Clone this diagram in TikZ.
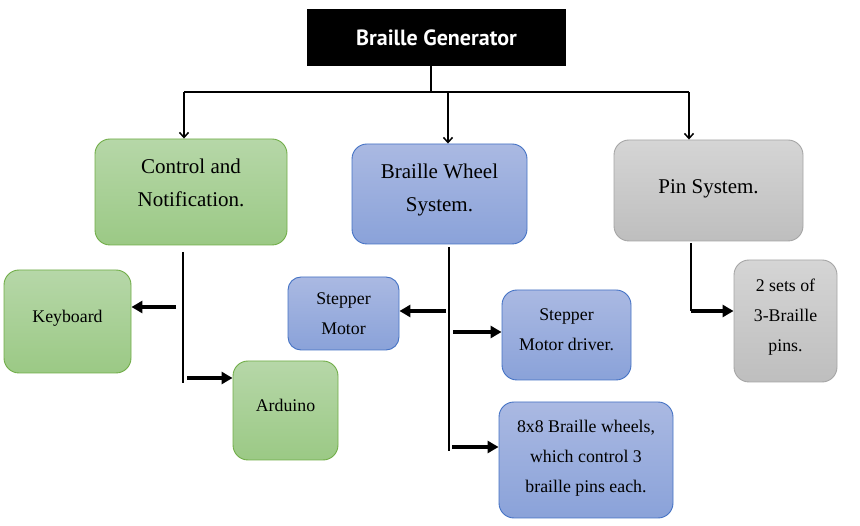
\documentclass[tikz,border=0pt]{standalone}
\usepackage{fontspec}
\setmainfont{Liberation Serif}
\newfontfamily\titlefont{PT Sans}
\usetikzlibrary{arrows.meta}
\definecolor{gtop}{HTML}{B6D7A8}
\definecolor{gbot}{HTML}{9BC985}
\definecolor{gbrd}{HTML}{70AD47}
\definecolor{btop}{HTML}{AAB9E2}
\definecolor{bbot}{HTML}{8AA2D9}
\definecolor{bbrd}{HTML}{4472C4}
\definecolor{ytop}{HTML}{D5D5D5}
\definecolor{ybot}{HTML}{BEBEBE}
\definecolor{ybrd}{HTML}{A5A5A5}
\tikzset{
  box/.style={draw, line width=0.9pt, rounded corners=15pt, inner sep=0pt},
  gbox/.style={box, draw=gbrd, top color=gtop, bottom color=gbot},
  bbox/.style={box, draw=bbrd, top color=btop, bottom color=bbot},
  ybox/.style={box, draw=ybrd, top color=ytop, bottom color=ybot},
  htxt/.style={align=center, inner sep=0pt, font=\fontsize{21}{33}\selectfont},
  ctxt/.style={align=center, inner sep=0pt, font=\fontsize{17.8}{30}\selectfont},
  topline/.style={line width=1.6pt},
  toparrow/.style={line width=1.5pt, -{Straight Barb[length=5pt,width=9pt,line width=1.5pt]}},
  vline/.style={line width=2pt},
  harrow/.style={line width=3.3pt, -{Triangle[length=11pt,width=12pt]}},
}
\begin{document}
\begin{tikzpicture}[x=1pt,y=-1pt]
\useasboundingbox (0,0) rectangle (860,526);
% title
\node[fill=black, minimum width=259pt, minimum height=57pt, inner sep=0pt,
      text=white, font=\titlefont\bfseries\fontsize{22}{24}\selectfont]
      (title) at (436.5,37.5) {Braille Generator};
% main boxes
\node[gbox, minimum width=192pt, minimum height=106pt] (ctrl) at (191,192) {};
\node[bbox, minimum width=175pt, minimum height=100pt] (wheel) at (439.5,194) {};
\node[ybox, minimum width=189pt, minimum height=101pt] (pin) at (708.5,190.5) {};
\node[htxt] (ctrlt) at ([yshift=9pt]ctrl.center) {Control and\\Notification.};
\node[htxt] (wheelt) at ([yshift=4pt]wheel.center) {Braille Wheel\\System.};
\node[htxt] (pint) at ([yshift=2pt]pin.center) {Pin System.};
% child boxes
\node[gbox, minimum width=127pt, minimum height=103pt] (kbd) at (67.5,321.5) {};
\node[gbox, minimum width=105pt, minimum height=99pt] (ard) at (285.5,410.5) {};
\node[bbox, minimum width=111pt, minimum height=73pt, rounded corners=13pt] (sm) at (343.5,313.5) {};
\node[bbox, minimum width=129pt, minimum height=90pt] (smd) at (566.5,335) {};
\node[bbox, minimum width=174pt, minimum height=116pt] (wh) at (586,460) {};
\node[ybox, minimum width=103pt, minimum height=122pt] (sets) at (785.5,321) {};
\node[ctxt] (kbdt) at ([yshift=3pt]kbd.center) {Keyboard};
\node[ctxt] (ardt) at ([yshift=5pt]ard.center) {Arduino};
\node[ctxt] (smt) at ([yshift=0pt]sm.center) {Stepper\\Motor};
\node[ctxt] (smdt) at ([yshift=5pt]smd.center) {Stepper\\Motor driver.};
\node[ctxt] (wht) at ([yshift=2pt]wh.center) {8x8 Braille wheels,\\which control 3\\braille pins each.};
\node[ctxt] (setst) at ([yshift=4pt]sets.center) {2 sets of\\3-Braille\\pins.};
% top connectors
\coordinate (tj) at (431,92);
\coordinate (hl) at (184,92);
\coordinate (hr) at (689,92);
\coordinate (hm) at (448,93);
\draw[topline] (tj |- title.south) -- (tj);
\draw[topline] (hl) -- (hr);
\draw[toparrow] (hl) -- (hl |- ctrl.north);
\draw[toparrow] (hm) -- (hm |- wheel.north);
\draw[toparrow] (hr) -- (hr |- pin.north);
% left branch
\coordinate (lv1) at (183,252);
\coordinate (lv2) at (183,383);
\coordinate (ka) at (176,307);
\coordinate (aa) at (187,378);
\draw[vline] (lv1) -- (lv2);
\draw[harrow] (ka) -- (ka -| kbd.east);
\draw[harrow] (aa) -- (aa -| ard.west);
% middle branch
\coordinate (mv1) at (449,247);
\coordinate (mv2) at (449,451);
\coordinate (sa) at (446,311);
\coordinate (da) at (453,332);
\coordinate (wa) at (452,447);
\draw[vline] (mv1) -- (mv2);
\draw[harrow] (sa) -- (sa -| sm.east);
\draw[harrow] (da) -- (da -| smd.west);
\draw[harrow] (wa) -- (wa -| wh.west);
% right branch
\coordinate (rv1) at (691,243);
\coordinate (rv2) at (691,311);
\draw[vline] (rv1) -- (rv2);
\draw[harrow] (rv2) -- (rv2 -| sets.west);
\end{tikzpicture}
\end{document}
